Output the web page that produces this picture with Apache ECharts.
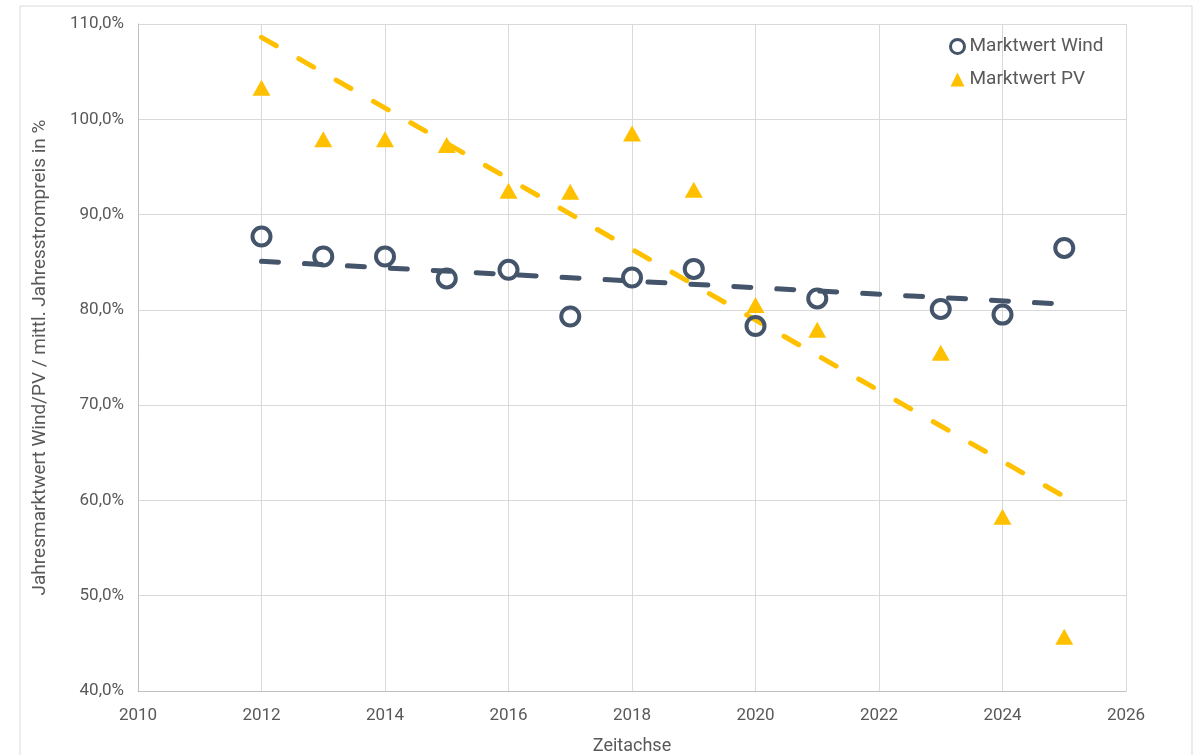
<!DOCTYPE html>
<html>
<head>
<meta charset="utf-8">
<script src="https://cdn.jsdelivr.net/npm/echarts@6/dist/echarts.min.js"></script>
<style>
  html, body { margin: 0; padding: 0; background: #fff; }
  #chart { width: 1194px; height: 755px; }
</style>
</head>
<body>
<div id="chart"></div>
<script>
// Jahresmarktwert Wind/PV relativ zum mittleren Jahresstrompreis
const windYears = [2012, 2013, 2014, 2015, 2016, 2017, 2018, 2019, 2020, 2021, 2023, 2024, 2025];
const windValues = [87.7, 85.6, 85.6, 83.3, 84.2, 79.3, 83.4, 84.3, 78.3, 81.2, 80.1, 79.5, 86.5];

const pvYears = [2012, 2013, 2014, 2015, 2016, 2017, 2018, 2019, 2020, 2021, 2023, 2024, 2025];
const pvValues = [103.3, 97.9, 97.9, 97.3, 92.5, 92.4, 98.5, 92.6, 80.5, 77.9, 75.5, 58.3, 45.7];

// Trendlinien (Endpunkte)
const trendYears = [2012, 2025];
const trendWind = [85.1, 80.6];
const trendPV = [108.6, 60.4];

const FONT = '"Roboto", sans-serif';
const TXT = '#595959';
const WIND = '#44546a';
const PV = '#ffc000';

const pairs = (xs, ys) => xs.map((x, i) => [x, ys[i]]);

const chart = echarts.init(document.getElementById('chart'));
chart.setOption({
    backgroundColor: '#fff',
    animation: false,
    textStyle: { fontFamily: FONT },
    graphic: [{
        type: 'rect', silent: true,
        shape: { x: 20, y: 6, width: 1172, height: 760 },
        style: { fill: 'none', stroke: '#d9d9d9', lineWidth: 1 }
    }],
    grid: { left: 138, right: 68, top: 24, bottom: 64, outerBoundsMode: 'none' },
    legend: {
        data: [
            { name: 'Marktwert Wind', icon: 'circle',
              itemStyle: { color: '#ffffff', borderColor: WIND, borderWidth: 3 } },
            { name: 'Marktwert PV', icon: 'triangle' }
        ],
        orient: 'vertical',
        left: 944, top: 32,
        itemWidth: 14, itemHeight: 14, itemGap: 14,
        textStyle: { color: TXT, fontSize: 19, fontFamily: FONT }
    },
    xAxis: {
        type: 'value', min: 2010, max: 2026, interval: 2,
        name: 'Zeitachse', nameLocation: 'middle', nameGap: 46,
        nameTextStyle: { color: TXT, fontSize: 18, fontFamily: FONT },
        axisLine: { show: true, lineStyle: { color: '#bfbfbf' } },
        axisTick: { show: false },
        axisLabel: { color: TXT, fontSize: 17, margin: 16, fontFamily: FONT, formatter: v => String(v) },
        splitLine: { show: true, lineStyle: { color: '#d9d9d9' } }
    },
    yAxis: {
        type: 'value', min: 40, max: 110, interval: 10,
        name: 'Jahresmarktwert Wind/PV / mittl. Jahresstrompreis in %',
        nameLocation: 'middle', nameGap: 88, nameRotate: 90,
        nameTextStyle: { color: TXT, fontSize: 19, fontFamily: FONT },
        axisLine: { show: true, lineStyle: { color: '#bfbfbf' } },
        axisTick: { show: false },
        axisLabel: {
            color: TXT, fontSize: 17, margin: 14, fontFamily: FONT,
            formatter: v => v.toFixed(1).replace('.', ',') + '%'
        },
        splitLine: { show: true, lineStyle: { color: '#d9d9d9' } }
    },
    series: [
        {
            name: 'Trend PV', type: 'line', data: pairs(trendYears, trendPV),
            symbol: 'none', z: 2,
            lineStyle: { color: PV, width: 5, type: [17, 26], cap: 'round' }
        },
        {
            name: 'Trend Wind', type: 'line', data: pairs(trendYears, trendWind),
            symbol: 'none', z: 2,
            lineStyle: { color: WIND, width: 5, type: [17, 26], cap: 'round' }
        },
        {
            name: 'Marktwert Wind', type: 'scatter', data: pairs(windYears, windValues),
            symbol: 'circle', symbolSize: 18, z: 3,
            itemStyle: { color: 'rgba(255,255,255,0)', borderColor: WIND, borderWidth: 4, opacity: 1 }
        },
        {
            name: 'Marktwert PV', type: 'scatter', data: pairs(pvYears, pvValues),
            symbol: 'triangle', symbolSize: [18, 16], z: 3,
            itemStyle: { color: PV, opacity: 1 }
        }
    ]
});
</script>
</body>
</html>
